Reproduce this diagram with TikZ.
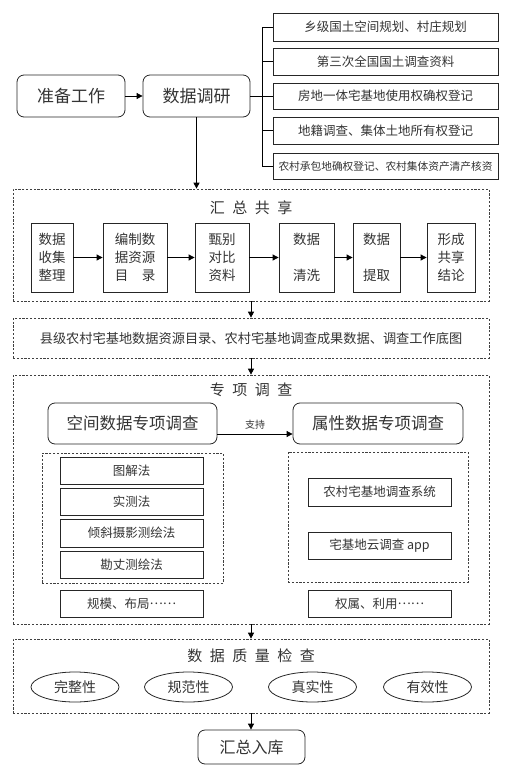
\documentclass[tikz,border=0pt]{standalone}
\usepackage{fontspec}
\setmainfont{Noto Sans CJK SC}
\usetikzlibrary{arrows.meta,shapes.geometric}
\newcommand\fs[2]{\fontsize{#1pt}{#2pt}\selectfont}
\newcommand\cjkdots{\raisebox{0.28em}{……}}
% \nb[style]{name}{x1}{y1}{x2}{y2}{text}
\newcommand\nb[7][]{\node[#1, minimum width={#5-#3}, minimum height={#6-#4}] (#2) at ({(#3+#5)/2},{(#4+#6)/2}) {#7};}
\begin{document}
\begin{tikzpicture}[x=1pt,y=-1pt,
  box/.style={draw=black!85, line width=0.8pt, inner sep=0pt, text=black!80, align=center},
  rbox/.style={box, rounded corners=7pt},
  dbox/.style={draw=black!75, line width=0.7pt, dash pattern=on 2.2pt off 1.6pt, inner sep=0pt, text=black!80, align=center},
  ttl/.style={text=black!80, font=\fs{15}{17}\addfontfeatures{LetterSpace=50}},
  ell/.style={draw=black!85, line width=0.8pt, ellipse, minimum width=88pt, minimum height=30pt, inner sep=0pt, text=black!80, font=\fs{14}{16}},
  arr/.style={-{Triangle[length=6pt,width=6pt]}, line width=0.8pt},
  ln/.style={line width=0.8pt}]
\useasboundingbox (0,0) rectangle (505,771);
% top
\nb[rbox, font=\fs{17}{20}]{zb}{17}{75}{125}{117}{准备工作}
\nb[rbox, font=\fs{17}{20}]{dy}{143}{75}{250}{117}{数据调研}
\nb[box, font=\fs{12.5}{14}]{r1}{273}{13}{498}{41}{乡级国土空间规划、村庄规划}
\nb[box, font=\fs{12.5}{14}]{r2}{273}{48}{498}{75}{第三次全国国土调查资料}
\nb[box, font=\fs{12.5}{14}]{r3}{273}{83}{498}{109}{房地一体宅基地使用权确权登记}
\nb[box, font=\fs{12.5}{14}]{r4}{273}{117}{498}{144}{地籍调查、集体土地所有权登记}
\nb[box, font=\fs{10.7}{13}]{r5}{273}{153}{498}{179}{农村承包地确权登记、农村集体资产清产核资}
\coordinate (j) at (262,96);
\draw[arr] (zb) -- (dy);
\draw[ln] (dy.east) -- (j);
\draw[ln] (r1.west -| j) -- (r5.west -| j);
\foreach \r in {r1,r2,r3,r4,r5} \draw[ln] (\r.west) -- (\r.west -| j);
% 汇总共享
\nb[dbox]{D1}{13}{189}{489}{301}{}
\node[ttl] (t1) at (251,208) {汇总共享};
\nb[box, font=\fs{13.5}{18}]{s1}{31}{223}{73}{292}{数据\\收集\\整理}
\nb[box, font=\fs{13.5}{18}]{s2}{103}{223}{167}{292}{编制数\\据资源\\目　录}
\nb[box, font=\fs{13.5}{18}]{s3}{195}{223}{249}{292}{甄别\\对比\\资料}
\nb[box, font=\fs{13.5}{18}]{s4}{279}{223}{334}{292}{数据\\[18pt]清洗}
\nb[box, font=\fs{13.5}{18}]{s5}{353}{223}{400}{292}{数据\\[18pt]提取}
\nb[box, font=\fs{13.5}{18}]{s6}{427}{223}{475}{292}{形成\\共享\\结论}
\foreach \a/\b in {s1/s2,s2/s3,s3/s4,s4/s5,s5/s6} \draw[arr] (\a.east) -- (\b.west);
\draw[arr] (dy.south) -- (dy.south |- D1.north);
% middle
\nb[dbox, font=\fs{13.2}{15}]{D2}{13}{318}{489}{358}{县级农村宅基地数据资源目录、农村宅基地调查成果数据、调查工作底图}
\draw[arr] (D1.south) -- (D2.north);
% 专项调查
\nb[dbox]{D3}{13}{375}{489}{624}{}
\draw[arr] (D2.south) -- (D3.north);
\node[ttl] (t3) at (251,390) {专项调查};
\nb[rbox, font=\fs{16.5}{19}]{sp}{48}{403}{217}{444}{空间数据专项调查}
\nb[rbox, font=\fs{16.5}{19}]{sx}{293}{403}{463}{444}{属性数据专项调查}
\draw[arr] ([yshift=-10.5pt]sp.east) -- node[midway, above=1pt, text=black!80, font=\fs{10}{12}] (zc) {支持} ([yshift=-10.5pt]sx.west);
\nb[dbox]{L}{42}{453}{223}{583}{}
\nb[dbox]{R}{288}{452}{468}{582}{}
\nb[box, font=\fs{12.5}{14}]{l1}{60}{457}{203}{484}{图解法}
\nb[box, font=\fs{12.5}{14}]{l2}{60}{488}{203}{515}{实测法}
\nb[box, font=\fs{12.5}{14}]{l3}{60}{519}{203}{547}{倾斜摄影测绘法}
\nb[box, font=\fs{12.5}{14}]{l4}{60}{551}{203}{578}{勘丈测绘法}
\nb[box, font=\fs{12.5}{14}]{gm}{60}{590}{203}{617}{规模、布局\cjkdots}
\nb[box, font=\fs{12.5}{14}]{q1}{308}{478}{451}{506}{农村宅基地调查系统}
\nb[box, font=\fs{12.5}{14}]{q2}{308}{532}{451}{559}{宅基地云调查 app}
\nb[box, font=\fs{12.5}{14}]{ql}{308}{590}{451}{617}{权属、利用\cjkdots}
% 数据质量检查
\nb[dbox]{D4}{13}{639}{489}{713}{}
\draw[arr] (D3.south) -- (D4.north);
\node[ttl] (t4) at (251,656) {数据质量检查};
\node[ell] (e1) at (75,687) {完整性};
\node[ell] (e2) at (188.5,687) {规范性};
\node[ell] (e3) at (312.5,687) {真实性};
\node[ell] (e4) at (427.5,687) {有效性};
\nb[rbox, font=\fs{16}{19}]{hz}{198}{730}{305}{764}{汇总入库}
\draw[arr] (D4.south) -- (D4.south |- hz.north);
\end{tikzpicture}
\end{document}
